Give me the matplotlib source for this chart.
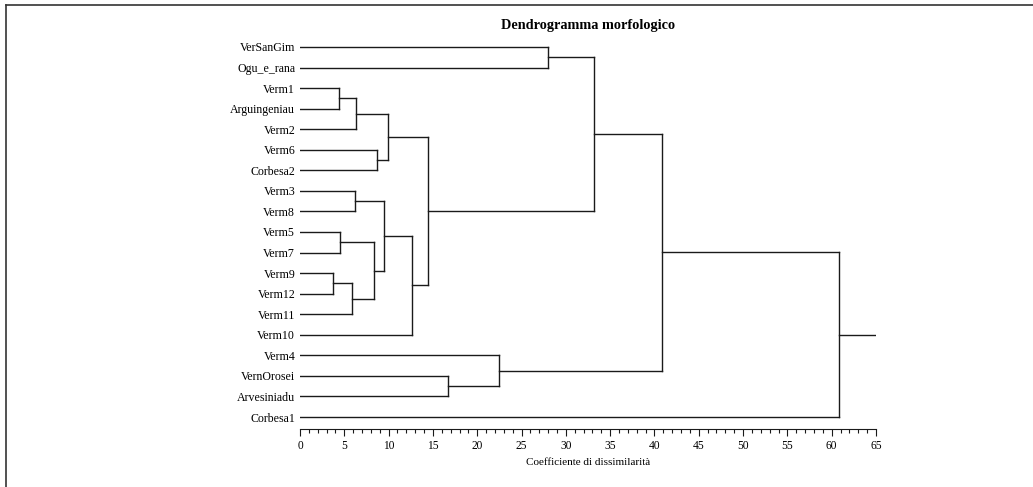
import numpy as np
import matplotlib
matplotlib.use("Agg")
import matplotlib.pyplot as plt
from matplotlib.lines import Line2D
from matplotlib.ticker import MultipleLocator

plt.rcParams['font.family'] = ['Liberation Serif', 'DejaVu Serif']

# foglie, dall'alto in basso
leaves = ['VerSanGim', 'Ogu_e_rana', 'Verm1', 'Arguingeniau', 'Verm2', 'Verm6',
          'Corbesa2', 'Verm3', 'Verm8', 'Verm5', 'Verm7', 'Verm9', 'Verm12',
          'Verm11', 'Verm10', 'Verm4', 'VernOrosei', 'Arvesiniadu', 'Corbesa1']

# fusioni: (figlio a, figlio b, altezza) ; "m<k>" = fusione k
merge_a = ['VerSanGim', 'Verm1', 'm1', 'Verm6', 'm2', 'Verm3', 'Verm5', 'Verm9', 'm7',
           'm6', 'm5', 'm10', 'm4', 'm0', 'VernOrosei', 'Verm4', 'm13', 'm16']
merge_b = ['Ogu_e_rana', 'Arguingeniau', 'Verm2', 'Corbesa2', 'm3', 'Verm8', 'Verm7',
           'Verm12', 'Verm11', 'm8', 'm9', 'Verm10', 'm11', 'm12', 'Arvesiniadu',
           'm14', 'm15', 'Corbesa1']
merge_h = [28.0, 4.4, 6.3, 8.7, 9.9, 6.2, 4.5, 3.7, 5.9, 8.4, 9.5, 12.6, 14.4,
           33.2, 16.7, 22.5, 40.8, 60.8]
x_max = 65

fig = plt.figure(figsize=(10.33, 4.87), dpi=100)
ax = fig.add_axes([300/1033, 1 - 429/487, 576/1033, (429 - 37)/487])

col = '#1a1a1a'
pos = {}
for i, name in enumerate(leaves):
    pos[name] = (i, 0.0)

for k in range(len(merge_h)):
    ya, xa = pos[merge_a[k]]
    yb, xb = pos[merge_b[k]]
    h = merge_h[k]
    ax.plot([xa, h], [ya, ya], color=col, lw=1)
    ax.plot([xb, h], [yb, yb], color=col, lw=1)
    ax.plot([h, h], [ya, yb], color=col, lw=1)
    pos['m%d' % k] = ((ya + yb) / 2, h)

yr, xr = pos['m%d' % (len(merge_h) - 1)]
ax.plot([xr, x_max], [yr, yr], color=col, lw=1)

ax.set_xlim(0, x_max)
ax.set_ylim(len(leaves) - 1 + 12/20.56, -0.486)
ax.set_yticks(range(len(leaves)))
ax.set_yticklabels(leaves, fontsize=8.6)
ax.tick_params(axis='y', length=0, pad=3.5)
ax.xaxis.set_major_locator(MultipleLocator(5))
ax.xaxis.set_minor_locator(MultipleLocator(1))
ax.tick_params(axis='x', which='major', length=5, width=0.8, labelsize=8.3, pad=3, color=col)
ax.tick_params(axis='x', which='minor', length=3, width=0.8, color=col)
for s in ['left', 'right', 'top']:
    ax.spines[s].set_visible(False)
ax.spines['bottom'].set_color(col)
ax.spines['bottom'].set_linewidth(0.8)

ax.set_xlabel('Coefficiente di dissimilarità', fontsize=8, labelpad=4)
fig.text(588/1033, 1 - 25/487, 'Dendrogramma morfologico', fontsize=10.3,
         fontweight='bold', ha='center', va='center')

# bordo della finestra (sopra e a sinistra)
fig.add_artist(Line2D([6/1033, 1], [1 - 5/487, 1 - 5/487], color='#333333', lw=1.2))
fig.add_artist(Line2D([6/1033, 6/1033], [0, 1 - 5/487], color='#333333', lw=1.2))

fig.savefig('out.png', dpi=100)
